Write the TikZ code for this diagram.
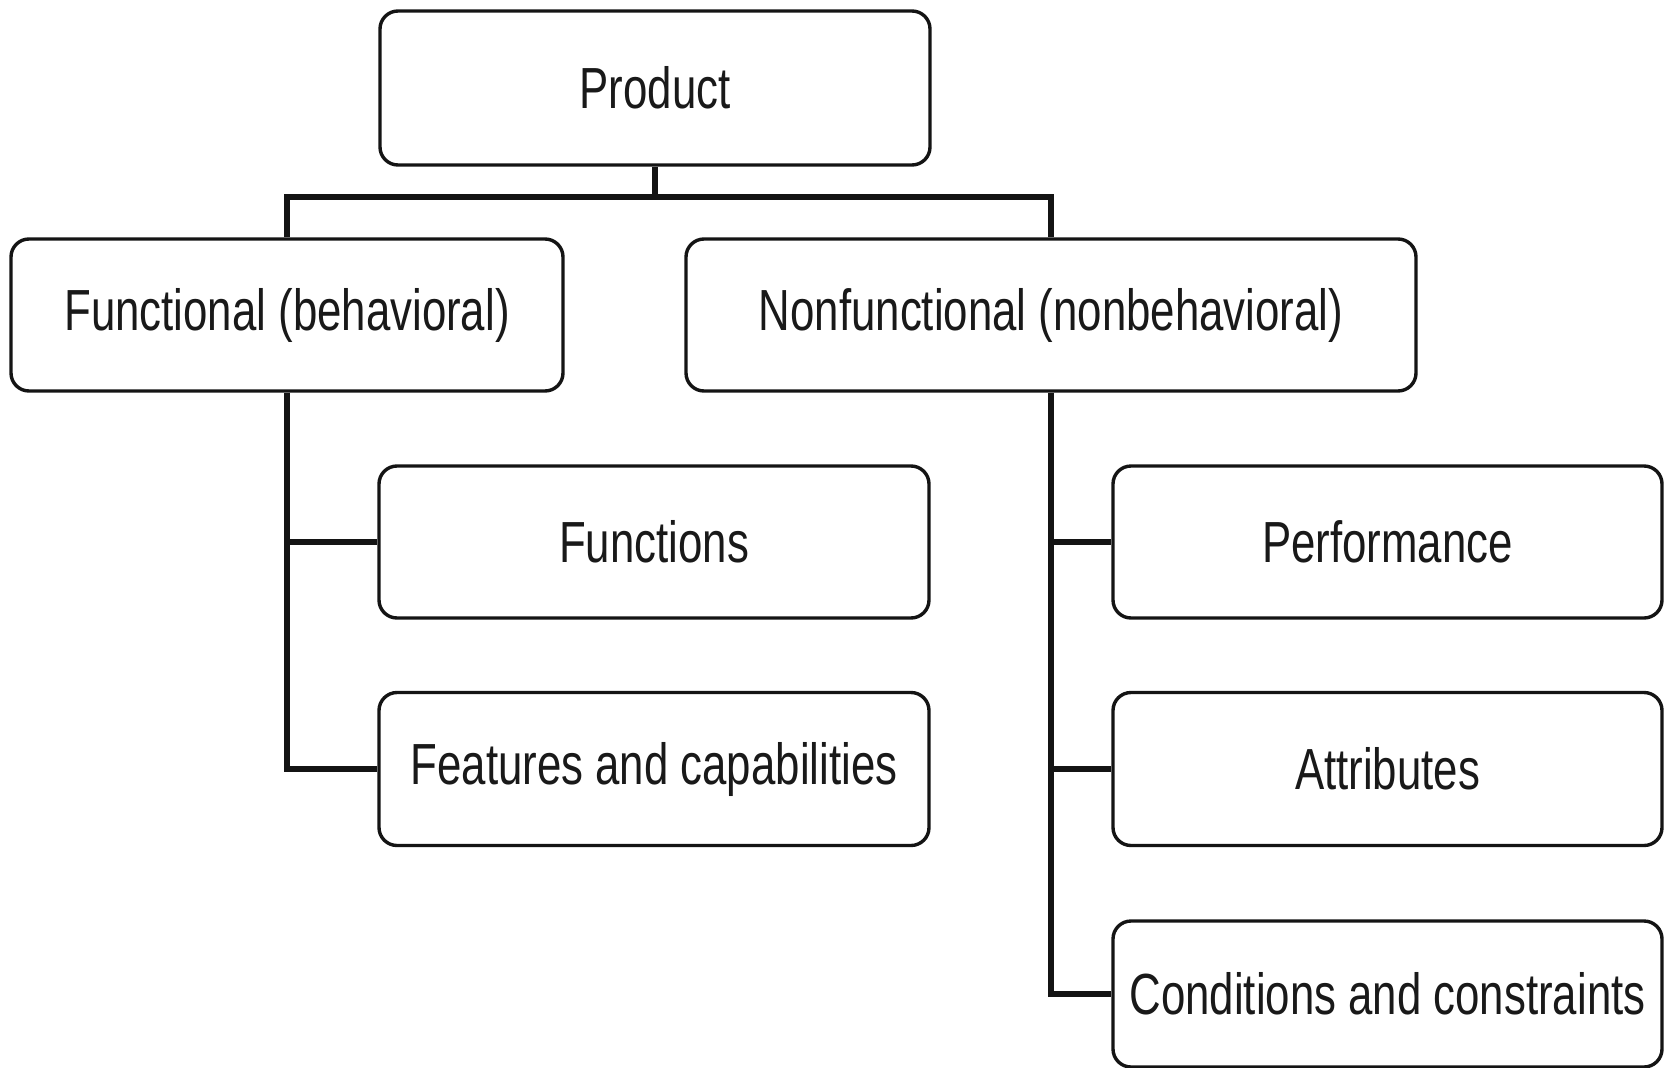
\documentclass[tikz,border=0pt]{standalone}
\usepackage{fontspec}
\setmainfont[FakeStretch=0.755]{Liberation Sans}
\begin{document}
\begin{tikzpicture}[x=1pt,y=-1pt,
  box/.style={draw=black!92, line width=3.4pt, rounded corners=18pt, fill=white,
    inner sep=0pt, text=black!90, font=\fontsize{58}{60}\selectfont},
  conn/.style={draw=black!92, line width=6.5pt, line join=miter}]
  \useasboundingbox[fill=white] (0,0) rectangle (1665,1068);
  % top level
  \node[box, minimum width=550pt, minimum height=154pt] (prod) at (655,88) {Product};
  % second level
  \node[box, minimum width=552pt, minimum height=152pt] (func) at (287,315) {Functional (behavioral)};
  \node[box, minimum width=730pt, minimum height=152pt] (nonf) at (1051,315) {Nonfunctional (nonbehavioral)};
  % functional children
  \node[box, minimum width=550pt, minimum height=152pt] (fns) at (654,542) {Functions};
  \node[box, minimum width=550pt, minimum height=153pt] (feat) at (654,769) {Features and capabilities};
  % nonfunctional children
  \node[box, minimum width=549pt, minimum height=152pt] (perf) at (1387.5,542) {Performance};
  \node[box, minimum width=549pt, minimum height=153pt] (attr) at (1387.5,769) {Attributes};
  \node[box, minimum width=549pt, minimum height=146pt] (cond) at (1387.5,994) {Conditions and constraints};
  % bus under the product box
  \coordinate (bus) at (654,197);
  \draw[conn] (prod.south) -- (prod.south |- bus);
  \draw[conn] (func.north) -- (func.north |- bus) -- (nonf.north |- bus) -- (nonf.north);
  % functional branch
  \draw[conn] (func.south) -- (func.south |- feat.west) -- (feat.west);
  \draw[conn] (func.south |- fns.west) -- (fns.west);
  % nonfunctional branch
  \draw[conn] (nonf.south) -- (nonf.south |- cond.west) -- (cond.west);
  \draw[conn] (nonf.south |- perf.west) -- (perf.west);
  \draw[conn] (nonf.south |- attr.west) -- (attr.west);
\end{tikzpicture}
\end{document}
